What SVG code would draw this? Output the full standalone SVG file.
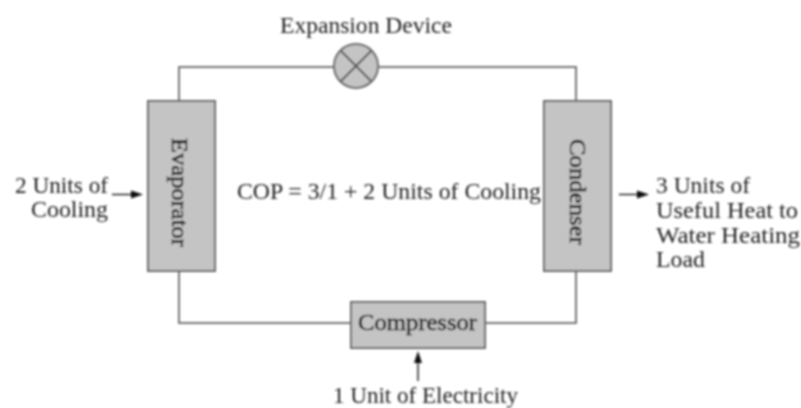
<svg xmlns="http://www.w3.org/2000/svg" width="801" height="408" viewBox="0 0 801 408">
<defs><filter id="soft" x="0" y="0" width="801" height="408" filterUnits="userSpaceOnUse"><feGaussianBlur stdDeviation="0.8"/></filter></defs>
<style>
text{font-family:"Liberation Serif","Times New Roman",serif;font-size:23px;fill:#222}
.n{fill:#000;stroke:#000;stroke-width:.4}
.b{fill:#c4c4c4;stroke:#666;stroke-width:2}
.l{fill:none;stroke:#777;stroke-width:2}
.x{fill:none;stroke:#555;stroke-width:2}
.a{fill:none;stroke:#222;stroke-width:1.5}
.h{fill:#111}
</style>
<rect width="801" height="408" fill="#fff"/>
<g filter="url(#soft)">
<g id="connectors">
<path class="l" d="M179 101V67H334M379 67H576V101"/>
<path class="l" d="M179 270V323H351M485 323H576V270"/>
<path class="a" d="M112 194.500H134"/><polygon class="h" points="143,194.500 131,190.500 131,198.500"/>
<path class="a" d="M619 194.500H640"/><polygon class="h" points="649,194.500 637,190.500 637,198.500"/>
<path class="a" d="M418 381V360"/><polygon class="h" points="418,351 414,363 422,363"/>
</g>
<g id="evaporator"><rect class="b" x="148" y="101" width="67" height="170"/><text class="n" transform="translate(172 138) rotate(90)" textLength="109" lengthAdjust="spacingAndGlyphs">Evaporator</text></g>
<g id="condenser"><rect class="b" x="544" y="101" width="67" height="170"/><text class="n" transform="translate(570 139) rotate(90)" textLength="106" lengthAdjust="spacingAndGlyphs">Condenser</text></g>
<g id="compressor"><rect class="b" x="351" y="302" width="134" height="46"/><text class="n" x="358" y="330" textLength="119" lengthAdjust="spacingAndGlyphs">Compressor</text></g>
<g id="expansion-device"><circle class="b" cx="356" cy="66" r="22"/><path class="x" d="M341 51L371 81M371 51L341 81"/><text x="280" y="33" textLength="172" lengthAdjust="spacingAndGlyphs">Expansion Device</text></g>
<g id="labels">
<text x="15" y="193" textLength="93" lengthAdjust="spacingAndGlyphs">2 Units of</text>
<text x="31" y="217" textLength="77" lengthAdjust="spacingAndGlyphs">Cooling</text>
<text x="237" y="199" textLength="304" lengthAdjust="spacingAndGlyphs">COP = 3/1 + 2 Units of Cooling</text>
<text x="656" y="193" textLength="94" lengthAdjust="spacingAndGlyphs">3 Units of</text>
<text x="656" y="218" textLength="142" lengthAdjust="spacingAndGlyphs">Useful Heat to</text>
<text x="656" y="243" textLength="144" lengthAdjust="spacingAndGlyphs">Water Heating</text>
<text x="656" y="267" textLength="49" lengthAdjust="spacingAndGlyphs">Load</text>
<text x="333" y="403" textLength="185" lengthAdjust="spacingAndGlyphs">1 Unit of Electricity</text>
</g>
</g>
</svg>
